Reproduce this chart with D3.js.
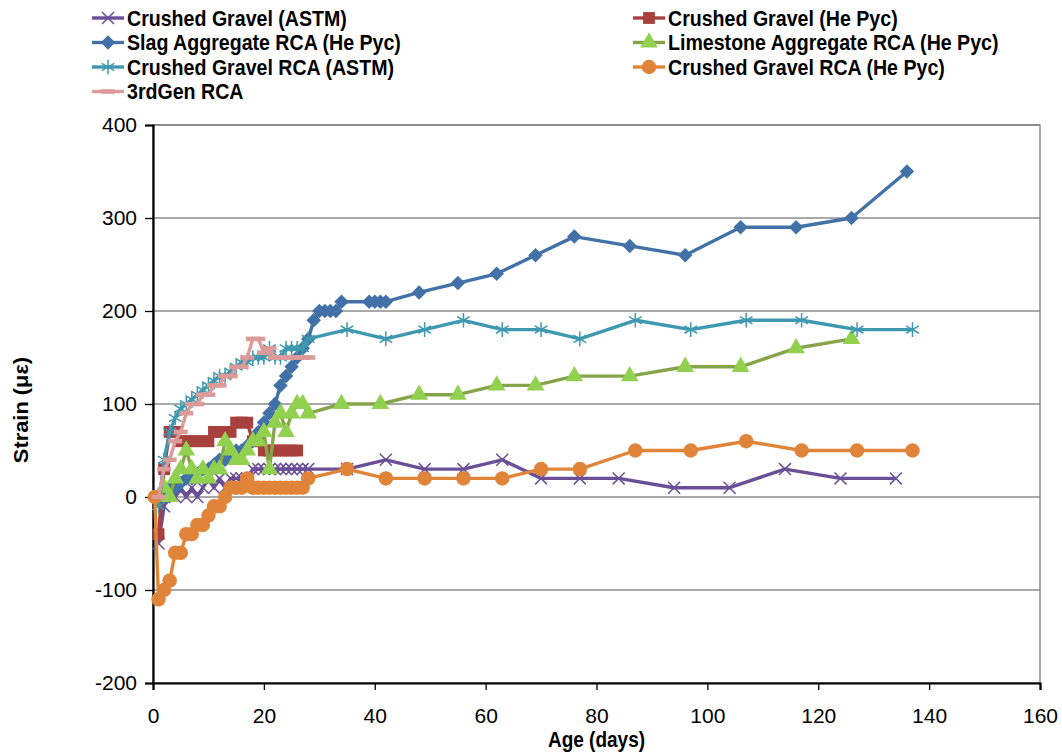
<!DOCTYPE html>
<html>
<head>
<meta charset="utf-8">
<script src="https://cdn.jsdelivr.net/npm/d3@7"></script>
<style>
  html, body { margin: 0; padding: 0; background: #fff; }
  svg { display: block; }
  .tick-label { font-family: "Liberation Sans", Arial, sans-serif; font-size: 21px; fill: #000; }
  .legend-label { font-family: "Liberation Sans", Arial, sans-serif; font-weight: bold; font-size: 20px; fill: #000; }
  .axis-title { font-family: "Liberation Sans", Arial, sans-serif; font-weight: bold; font-size: 19px; fill: #000; }
</style>
</head>
<body>
<svg id="chart" width="1062" height="755"></svg>
<script>
// ---- data: age (days) and strain (microstrain) for each mix ----
const seriesNames = [
  "Crushed Gravel (ASTM)",
  "Crushed Gravel (He Pyc)",
  "Slag Aggregate RCA (He Pyc)",
  "Limestone Aggregate RCA (He Pyc)",
  "Crushed Gravel RCA  (ASTM)",
  "Crushed Gravel RCA (He Pyc)",
  "3rdGen RCA"
];

const cgAstmDays = [1,2,3,4,5,6,7,8,9,10,11,12,13,14,15,16,17,18,19,20,21,22,23,24,25,26,27,28,35,42,49,56,63,70,77,84,94,104,114,124,134];
const cgAstmStrain = [-50,-10,10,0,10,0,10,0,10,20,10,20,10,20,20,20,20,30,30,30,30,30,30,30,30,30,30,30,30,40,30,30,40,20,20,20,10,10,30,20,20];

const cgHePycDays = [1,2,3,4,5,6,7,8,9,10,11,12,13,14,15,16,17,18,19,20,21,22,23,24,25,26];
const cgHePycStrain = [-40,30,70,70,60,60,60,60,60,60,70,70,70,70,80,80,80,60,60,50,50,50,50,50,50,50];

const slagDays = [1,2,3,4,5,6,7,8,9,10,11,12,13,14,15,16,17,18,19,20,21,22,23,24,25,26,27,28,29,30,31,32,33,34,39,40,41,42,48,55,62,69,76,86,96,106,116,126,136];
const slagStrain = [0,0,10,10,15,20,20,25,30,30,35,40,40,45,50,50,55,60,70,80,90,100,120,130,140,150,160,170,190,200,200,200,200,210,210,210,210,210,220,230,240,260,280,270,260,290,290,300,350];

const limeDays = [1,2,3,4,5,6,7,8,9,10,11,12,13,14,15,16,17,18,19,20,21,22,23,24,25,26,27,28,34,41,48,55,62,69,76,86,96,106,116,126];
const limeStrain = [0,10,0,20,30,50,30,20,30,20,30,30,60,50,40,40,50,60,60,70,30,80,90,70,90,100,100,90,100,100,110,110,120,120,130,130,140,140,160,170];

const cgRcaAstmDays = [1,2,3,4,5,6,7,8,9,10,11,12,13,14,15,16,17,18,19,20,21,22,23,24,25,26,27,28,35,42,49,56,63,70,77,87,97,107,117,127,137];
const cgRcaAstmStrain = [-10,40,70,85,95,100,105,110,115,120,125,130,130,135,140,145,145,150,150,150,160,150,150,160,160,160,160,170,180,170,180,190,180,180,170,190,180,190,190,180,180];

const cgRcaHePycDays = [0.3,1,2,3,4,5,6,7,8,9,10,11,12,13,14,15,16,17,18,19,20,21,22,23,24,25,26,27,28,35,42,49,56,63,70,77,87,97,107,117,127,137];
const cgRcaHePycStrain = [0,-110,-100,-90,-60,-60,-40,-40,-30,-30,-20,-10,-10,0,10,10,10,20,10,10,10,10,10,10,10,10,10,10,20,30,20,20,20,20,30,30,50,50,60,50,50,50];

const gen3Days = [1,2,3,4,5,6,7,8,9,10,11,12,13,14,15,16,17,18,19,20,21,22,23,24,25,26,27,28];
const gen3Strain = [0,30,40,60,70,90,100,100,110,110,120,120,130,130,140,140,150,170,170,155,160,150,150,150,150,150,150,150];

const xTicks = [0,20,40,60,80,100,120,140,160];
const yTicks = [-200,-100,0,100,200,300,400];
const xTitle = "Age (days)";
const yTitle = "Strain (\u03bc\u03b5)";

// ---- series table built from the arrays above ----
const seriesData = [
  [cgAstmDays, cgAstmStrain],
  [cgHePycDays, cgHePycStrain],
  [slagDays, slagStrain],
  [limeDays, limeStrain],
  [cgRcaAstmDays, cgRcaAstmStrain],
  [cgRcaHePycDays, cgRcaHePycStrain],
  [gen3Days, gen3Strain]
];

// visual style for each series: line colour, marker shape and fill
const styles = [
  { line: "#6b4f96", marker: "times",    fill: "none",    stroke: "#6b4f96" },
  { line: "#a8403d", marker: "square",   fill: "#a8403d", stroke: "none" },
  { line: "#4271a8", marker: "diamond",  fill: "#4271a8", stroke: "none" },
  { line: "#86a54a", marker: "triangle", fill: "#92d050", stroke: "none" },
  { line: "#3e98b0", marker: "asterisk", fill: "none",    stroke: "#3e98b0" },
  { line: "#e0843a", marker: "circle",   fill: "#e0843a", stroke: "none" },
  { line: "#dc9a99", marker: "dash",     fill: "none",    stroke: "#dc9a99" }
];

const series = seriesNames.map((name, i) => ({
  name,
  style: styles[i],
  points: seriesData[i][0].map((d, j) => ({ x: d, y: seriesData[i][1][j] }))
}));

// ---- layout ----
const svg = d3.select("#chart");
const plot = { left: 153, right: 1040, top: 125, bottom: 683 };

const x = d3.scaleLinear().domain([0, 160]).range([plot.left, plot.right]);
const y = d3.scaleLinear().domain([-200, 400]).range([plot.bottom, plot.top]);

// gridlines and plot frame
svg.append("g")
  .selectAll("line")
  .data(yTicks)
  .join("line")
  .attr("x1", plot.left).attr("x2", plot.right)
  .attr("y1", d => y(d)).attr("y2", d => y(d))
  .attr("stroke", "#8c8c8c").attr("stroke-width", 1.3);

svg.append("rect")
  .attr("x", plot.left).attr("y", plot.top)
  .attr("width", plot.right - plot.left).attr("height", plot.bottom - plot.top)
  .attr("fill", "none").attr("stroke", "#7f7f7f").attr("stroke-width", 1.3);

// axes
const xAxis = d3.axisBottom(x).tickValues(xTicks).tickSize(7).tickPadding(18).tickFormat(d3.format("d"));
const yAxis = d3.axisLeft(y).tickValues(yTicks).tickSize(8).tickPadding(8).tickFormat(d3.format("d"));

const gx = svg.append("g").attr("transform", `translate(0,${plot.bottom})`).call(xAxis);
const gy = svg.append("g").attr("transform", `translate(${plot.left},0)`).call(yAxis);
[gx, gy].forEach(g => {
  g.select(".domain").attr("stroke", "#000").attr("stroke-width", 2.2);
  g.selectAll(".tick line").attr("stroke", "#000").attr("stroke-width", 1.3);
  g.selectAll(".tick text").attr("class", "tick-label").attr("font-family", null).attr("font-size", null);
});
gy.selectAll(".tick text").text(d => d < 0 ? "-" + Math.abs(d) : d);

// marker drawing
const symbolFor = {
  times: d3.symbol(d3.symbolTimes, 95),
  square: d3.symbol(d3.symbolSquare, 140),
  diamond: d3.symbol(d3.symbolSquare, 105),
  triangle: d3.symbol(d3.symbolTriangle, 135),
  asterisk: d3.symbol(d3.symbolAsterisk, 150),
  circle: d3.symbol(d3.symbolCircle, 165)
};

function drawMarker(sel, st) {
  if (st.marker === "dash") {
    sel.append("line")
      .attr("x1", -7).attr("x2", 7).attr("y1", 0).attr("y2", 0)
      .attr("stroke", st.stroke).attr("stroke-width", 4.5);
    return;
  }
  sel.append("path")
    .attr("d", symbolFor[st.marker]())
    .attr("transform", st.marker === "diamond" ? "rotate(45)" : null)
    .attr("fill", st.fill)
    .attr("stroke", st.stroke)
    .attr("stroke-width", st.stroke === "none" ? 0 : 1.5);
}

const line = d3.line().x(d => x(d.x)).y(d => y(d.y));

const gSeries = svg.append("g");
series.forEach(s => {
  const g = gSeries.append("g");
  g.append("path")
    .datum(s.points)
    .attr("d", line)
    .attr("fill", "none")
    .attr("stroke", s.style.line)
    .attr("stroke-width", 3.4)
    .attr("stroke-linejoin", "round");
  g.selectAll("g.pt")
    .data(s.points)
    .join("g")
    .attr("class", "pt")
    .attr("transform", d => `translate(${x(d.x)},${y(d.y)})`)
    .each(function () { drawMarker(d3.select(this), s.style); });
});

// axis titles (slightly tall lettering)
svg.append("text")
  .attr("class", "axis-title")
  .attr("transform", `translate(${(plot.left + plot.right) / 2},747) scale(1,1.12)`)
  .attr("text-anchor", "middle")
  .text(xTitle);

svg.append("text")
  .attr("class", "axis-title")
  .attr("transform", `translate(28,${(plot.top + plot.bottom) / 2 + 6}) rotate(-90) scale(1.15,1.1)`)
  .attr("text-anchor", "middle")
  .text(yTitle);

// legend: two columns, filled row by row
const legend = svg.append("g");
series.forEach((s, i) => {
  const col = i % 2, row = Math.floor(i / 2);
  const lx = col === 0 ? 92 : 633;
  const ly = 18 + row * 24.5;
  const g = legend.append("g").attr("transform", `translate(${lx},${ly})`);
  g.append("line")
    .attr("x1", 0).attr("x2", 32).attr("y1", 0).attr("y2", 0)
    .attr("stroke", s.style.line).attr("stroke-width", 3.4);
  const m = g.append("g").attr("transform", "translate(16,0)");
  drawMarker(m, s.style);
  g.append("text")
    .attr("class", "legend-label")
    .attr("transform", "translate(35,0) scale(0.98,1.12)")
    .attr("dy", "0.35em")
    .text(s.name);
});
</script>
</body>
</html>
